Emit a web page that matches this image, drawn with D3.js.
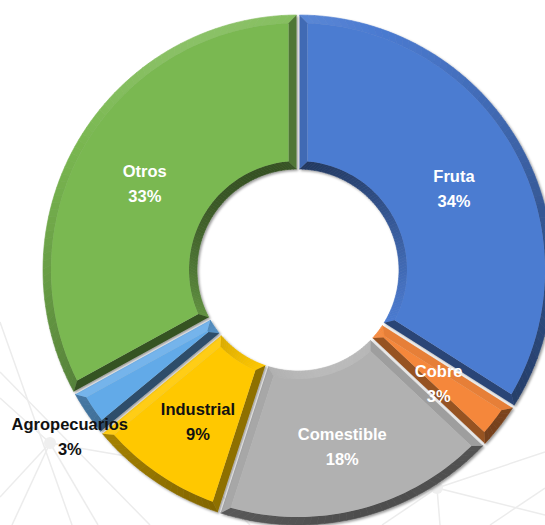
<!DOCTYPE html>
<html>
<head>
<meta charset="utf-8">
<script src="https://cdn.jsdelivr.net/npm/d3@7"></script>
<style>
  html, body { margin: 0; padding: 0; background: #fff; }
  svg { display: block; }
  text { font-family: "Liberation Sans", Arial, sans-serif; font-weight: bold; }
</style>
</head>
<body>
<div id="chart"></div>
<script>
// chart data
var categories = ["Fruta", "Cobre", "Comestible", "Industrial", "Agropecuarios", "Otros"];
var shares     = [34, 3, 18, 9, 3, 33];
var colors     = ["#4b7bd1", "#f5873a", "#b1b1b1", "#ffc800", "#62aae8", "#7ab851"];
var labelInk   = ["#fff", "#fff", "#fff", "#111", "#111", "#fff"];

// faint network drawing behind the chart (decoration only)
var backdrop = [
  [50, 443, 0, 398], [50, 443, 0, 497], [50, 443, 98, 525], [50, 443, 195, 468],
  [0, 322, 72, 525], [0, 372, 150, 525], [195, 468, 250, 525], [12, 525, 50, 443],
  [437, 488, 545, 452], [437, 488, 545, 515], [437, 488, 382, 525], [437, 488, 440, 525],
  [437, 488, 318, 506], [490, 525, 545, 488]
];
var backdropNodes = [[50, 443], [437, 488]];

var width = 545, height = 525,
    cx = 298, cy = 270,
    rOuter = 255, rInner = 101,
    bevel = 8, pad = 1.5;

var svg = d3.select("#chart").append("svg")
    .attr("width", width)
    .attr("height", height);

var defs = svg.append("defs");
var shadow = defs.append("filter")
    .attr("id", "shadow")
    .attr("x", "-10%").attr("y", "-10%")
    .attr("width", "120%").attr("height", "120%");
shadow.append("feDropShadow")
    .attr("dx", 1.5).attr("dy", 1.5)
    .attr("stdDeviation", 1.3)
    .attr("flood-color", "#000")
    .attr("flood-opacity", 0.4);

// backdrop
var bg = svg.append("g").attr("class", "backdrop");
bg.selectAll("line")
  .data(backdrop)
  .enter().append("line")
    .attr("x1", function(d) { return d[0]; })
    .attr("y1", function(d) { return d[1]; })
    .attr("x2", function(d) { return d[2]; })
    .attr("y2", function(d) { return d[3]; })
    .attr("stroke", "#ececec")
    .attr("stroke-width", 1.5);
bg.selectAll("circle")
  .data(backdropNodes)
  .enter().append("circle")
    .attr("cx", function(d) { return d[0]; })
    .attr("cy", function(d) { return d[1]; })
    .attr("r", 6)
    .attr("fill", "#efefef");

var slices = categories.map(function(c, i) {
  return { name: c, value: shares[i], color: colors[i], ink: labelInk[i] };
});

var pie = d3.pie()
    .sort(null)
    .value(function(d) { return d.value; });

var arcs = pie(slices);

var g = svg.append("g")
    .attr("transform", "translate(" + cx + "," + cy + ")");

// polar -> xy, angle measured clockwise from 12 o'clock like d3.arc
function pt(r, a) { return [r * Math.sin(a), -r * Math.cos(a)]; }

var poly = d3.line().curve(d3.curveLinearClosed);

// light from the upper left
var light = [-0.35, -0.94];
function shade(base, n) {
  var t = n[0] * light[0] + n[1] * light[1];
  if (t > 0.8) return d3.interpolateRgb(base, "#fff")((t - 0.8) * 0.6);
  return d3.interpolateRgb(base, "#000")((0.8 - t) * 0.31);
}

function arcPoints(r, a0, a1, n) {
  var out = [];
  for (var k = 0; k <= n; k++) out.push(pt(r, a0 + (a1 - a0) * k / n));
  return out;
}

arcs.forEach(function(d) {
  var a0 = d.startAngle, a1 = d.endAngle,
      base = d.data.color,
      r1 = rOuter, r0 = rInner,
      r1b = rOuter - bevel, r0b = rInner + bevel;

  // edge angles at each radius (gap of 2*pad between slices)
  var o0 = a0 + pad / r1, o1 = a1 - pad / r1,
      ob0 = a0 + (pad + bevel) / r1b, ob1 = a1 - (pad + bevel) / r1b,
      i0 = a0 + pad / r0, i1 = a1 - pad / r0,
      ib0 = a0 + (pad + bevel) / r0b, ib1 = a1 - (pad + bevel) / r0b;
  if (ib1 < ib0) { var m = (ib0 + ib1) / 2; ib0 = m; ib1 = m; }

  var sg = g.append("g")
      .attr("class", "slice")
      .attr("filter", "url(#shadow)");

  var n = Math.max(2, Math.ceil((a1 - a0) / 0.03));

  // outer facet, in small pieces so the shading follows the curve
  for (var k = 0; k < n; k++) {
    var s0 = o0 + (o1 - o0) * k / n, s1 = o0 + (o1 - o0) * (k + 1) / n,
        t0 = ob0 + (ob1 - ob0) * k / n, t1 = ob0 + (ob1 - ob0) * (k + 1) / n,
        mid = (s0 + s1) / 2,
        c = shade(base, [Math.sin(mid), -Math.cos(mid)]);
    sg.append("path")
      .attr("d", poly([pt(r1, s0), pt(r1, s1), pt(r1b, t1), pt(r1b, t0)]))
      .attr("fill", c)
      .attr("stroke", c)
      .attr("stroke-width", 0.6);
  }

  // inner facet
  for (var k = 0; k < n; k++) {
    var s0 = i0 + (i1 - i0) * k / n, s1 = i0 + (i1 - i0) * (k + 1) / n,
        t0 = ib0 + (ib1 - ib0) * k / n, t1 = ib0 + (ib1 - ib0) * (k + 1) / n,
        mid = (s0 + s1) / 2,
        c = shade(base, [-Math.sin(mid), Math.cos(mid)]);
    sg.append("path")
      .attr("d", poly([pt(r0, s0), pt(r0, s1), pt(r0b, t1), pt(r0b, t0)]))
      .attr("fill", c)
      .attr("stroke", c)
      .attr("stroke-width", 0.6);
  }

  // radial facets
  sg.append("path")
    .attr("d", poly([pt(r0, i0), pt(r1, o0), pt(r1b, ob0), pt(r0b, ib0)]))
    .attr("fill", shade(base, [-Math.cos(a0), -Math.sin(a0)]));
  sg.append("path")
    .attr("d", poly([pt(r0, i1), pt(r1, o1), pt(r1b, ob1), pt(r0b, ib1)]))
    .attr("fill", shade(base, [Math.cos(a1), Math.sin(a1)]));

  // top face
  var top = arcPoints(r1b, ob0, ob1, n).concat(arcPoints(r0b, ib1, ib0, n));
  sg.append("path")
    .attr("d", poly(top))
    .attr("fill", base);
});

// labels
var labelArc = d3.arc().innerRadius(178).outerRadius(178);
var outerLabelArc = d3.arc().innerRadius(288).outerRadius(288);

var labels = g.selectAll(".label")
  .data(arcs)
  .enter().append("text")
    .attr("class", "label")
    .attr("transform", function(d) {
      var c = d.data.name === "Agropecuarios"
        ? outerLabelArc.centroid(d) : labelArc.centroid(d);
      if (d.data.name === "Agropecuarios") c[0] += 10;
      return "translate(" + c[0] + "," + c[1] + ")";
    })
    .attr("text-anchor", "middle")
    .style("font-size", "16.5px")
    .attr("fill", function(d) { return d.data.ink; });

labels.append("tspan")
    .attr("x", 0)
    .attr("y", -2)
    .text(function(d) { return d.data.name; });
labels.append("tspan")
    .attr("x", 0)
    .attr("y", 23)
    .text(function(d) { return d.data.value + "%"; });
</script>
</body>
</html>
